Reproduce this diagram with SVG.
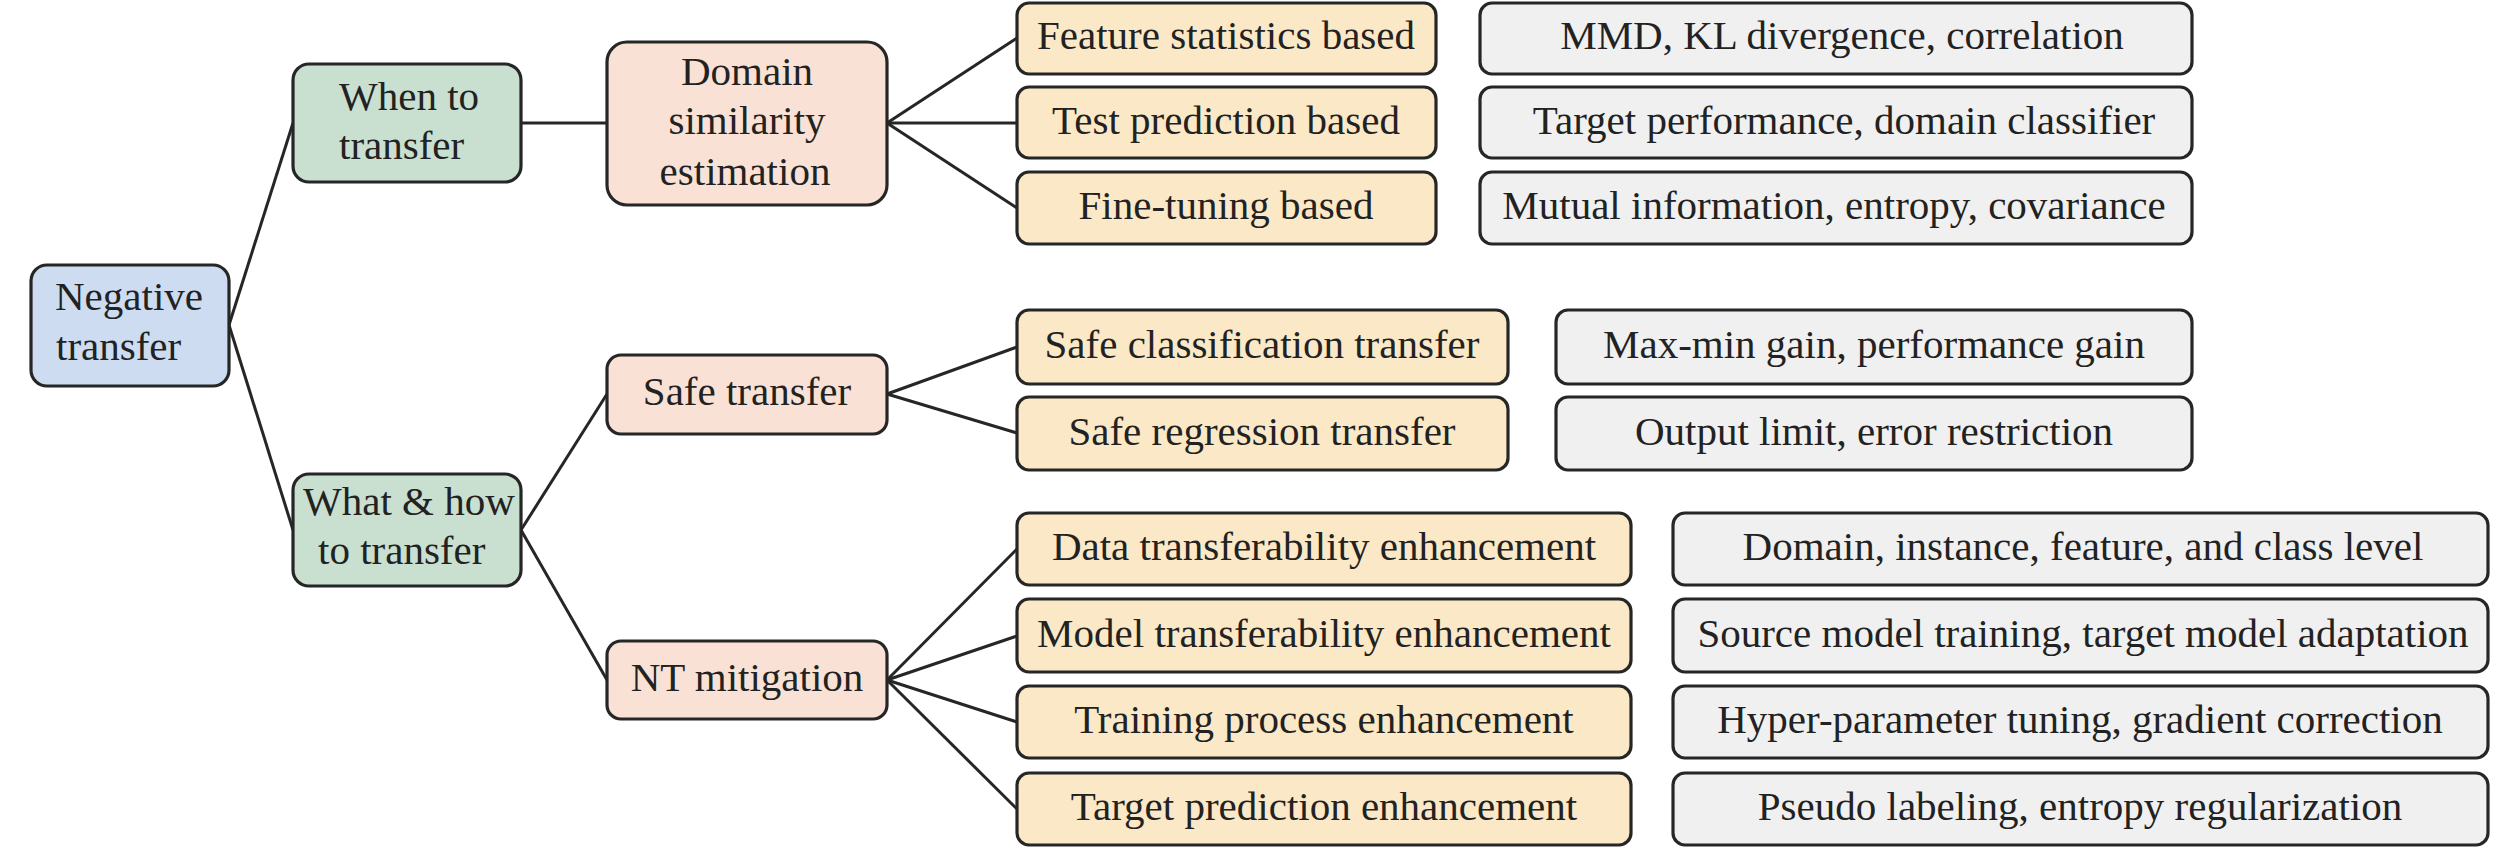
<svg xmlns="http://www.w3.org/2000/svg" width="2520" height="848" viewBox="0 0 2520 848">
<style>
rect{stroke:#262626;stroke-width:3.2}
.root{fill:#cddcf0}
.l1{fill:#c9dfd0}
.l2{fill:#f9e2d5}
.l3{fill:#fbe8c6}
.l4{fill:#f0f0f0}
text{font-family:"Liberation Serif","Times New Roman",serif;font-size:41px;fill:#222}
.c{text-anchor:middle}
#connectors line{stroke:#262626;stroke-width:3;fill:none}
</style>
<rect width="2520" height="848" fill="#ffffff" style="stroke:none"/>
<g id="connectors">
<line x1="229" y1="325" x2="293" y2="123"/>
<line x1="229" y1="325" x2="293" y2="530"/>
<line x1="521" y1="123" x2="607" y2="123"/>
<line x1="521" y1="530" x2="607" y2="394"/>
<line x1="521" y1="530" x2="607" y2="680"/>
<line x1="887" y1="123" x2="1017" y2="38"/>
<line x1="887" y1="123" x2="1017" y2="123"/>
<line x1="887" y1="123" x2="1017" y2="208"/>
<line x1="887" y1="394" x2="1017" y2="347"/>
<line x1="887" y1="394" x2="1017" y2="433"/>
<line x1="887" y1="680" x2="1017" y2="549"/>
<line x1="887" y1="680" x2="1017" y2="636"/>
<line x1="887" y1="680" x2="1017" y2="722"/>
<line x1="887" y1="680" x2="1017" y2="809"/>
</g>
<g id="n-negative"><rect class="root" x="31" y="265" width="198" height="121" rx="16"/><text x="55" y="310">Negative</text><text x="56" y="360">transfer</text></g>
<g id="n-when"><rect class="l1" x="293" y="64" width="228" height="118" rx="16"/><text x="339" y="110">When to</text><text x="339" y="159">transfer</text></g>
<g id="n-whathow"><rect class="l1" x="293" y="474" width="228" height="112" rx="16"/><text x="303" y="515">What &amp; how</text><text x="318" y="564">to transfer</text></g>
<g id="n-domain"><rect class="l2" x="607" y="42" width="280" height="163" rx="20"/><text class="c" x="747" y="85">Domain</text><text class="c" x="747" y="134">similarity</text><text class="c" x="745" y="185">estimation</text></g>
<g id="n-safe"><rect class="l2" x="607" y="355" width="280" height="79" rx="14"/><text class="c" x="747" y="405">Safe transfer</text></g>
<g id="n-ntm"><rect class="l2" x="607" y="641" width="280" height="78" rx="14"/><text class="c" x="747" y="691">NT mitigation</text></g>
<g id="n-feat"><rect class="l3" x="1017" y="3" width="419" height="71" rx="12"/><text class="c" x="1226" y="49">Feature statistics based</text></g>
<g id="n-test"><rect class="l3" x="1017" y="87" width="419" height="71" rx="12"/><text class="c" x="1226" y="134">Test prediction based</text></g>
<g id="n-fine"><rect class="l3" x="1017" y="172" width="419" height="72" rx="12"/><text class="c" x="1226" y="219">Fine-tuning based</text></g>
<g id="n-mmd"><rect class="l4" x="1480" y="3" width="712" height="71" rx="12"/><text class="c" x="1842" y="49">MMD, KL divergence, correlation</text></g>
<g id="n-target"><rect class="l4" x="1480" y="87" width="712" height="71" rx="12"/><text class="c" x="1844" y="134">Target performance, domain classifier</text></g>
<g id="n-mutual"><rect class="l4" x="1480" y="172" width="712" height="72" rx="12"/><text class="c" x="1834" y="219">Mutual information, entropy, covariance</text></g>
<g id="n-safecls"><rect class="l3" x="1017" y="310" width="491" height="74" rx="12"/><text class="c" x="1262" y="358">Safe classification transfer</text></g>
<g id="n-safereg"><rect class="l3" x="1017" y="397" width="491" height="73" rx="12"/><text class="c" x="1262" y="445">Safe regression transfer</text></g>
<g id="n-maxmin"><rect class="l4" x="1556" y="310" width="636" height="74" rx="12"/><text class="c" x="1874" y="358">Max-min gain, performance gain</text></g>
<g id="n-output"><rect class="l4" x="1556" y="397" width="636" height="73" rx="12"/><text class="c" x="1874" y="445">Output limit, error restriction</text></g>
<g id="n-data"><rect class="l3" x="1017" y="513" width="614" height="72" rx="12"/><text class="c" x="1324" y="560">Data transferability enhancement</text></g>
<g id="n-model"><rect class="l3" x="1017" y="599" width="614" height="73" rx="12"/><text class="c" x="1324" y="647">Model transferability enhancement</text></g>
<g id="n-train"><rect class="l3" x="1017" y="686" width="614" height="72" rx="12"/><text class="c" x="1324" y="733">Training process enhancement</text></g>
<g id="n-tpred"><rect class="l3" x="1017" y="773" width="614" height="72" rx="12"/><text class="c" x="1324" y="820">Target prediction enhancement</text></g>
<g id="n-dlevel"><rect class="l4" x="1673" y="513" width="815" height="72" rx="12"/><text class="c" x="2083" y="560">Domain, instance, feature, and class level</text></g>
<g id="n-src"><rect class="l4" x="1673" y="599" width="815" height="73" rx="12"/><text class="c" x="2083" y="647">Source model training, target model adaptation</text></g>
<g id="n-hyper"><rect class="l4" x="1673" y="686" width="815" height="72" rx="12"/><text class="c" x="2080" y="733">Hyper-parameter tuning, gradient correction</text></g>
<g id="n-pseudo"><rect class="l4" x="1673" y="773" width="815" height="72" rx="12"/><text class="c" x="2080" y="820">Pseudo labeling, entropy regularization</text></g>
</svg>
